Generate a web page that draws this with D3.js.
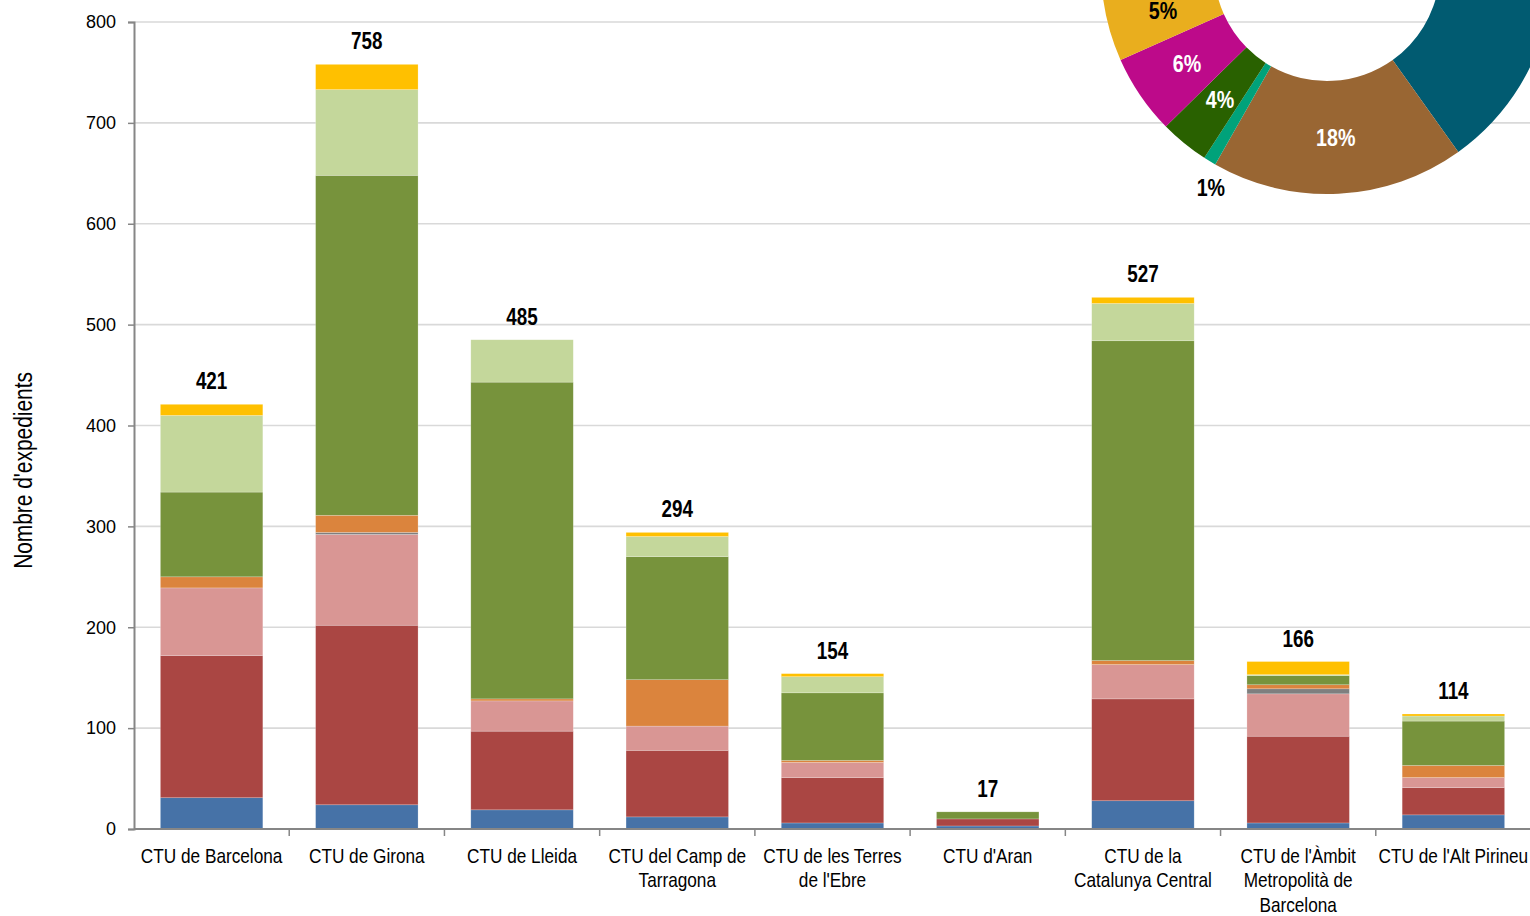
<!DOCTYPE html>
<html>
<head>
<meta charset="utf-8">
<script src="https://cdn.jsdelivr.net/npm/d3@7"></script>
<style>
  body { margin: 0; background: #fff; }
  svg { display: block; }
</style>
</head>
<body>
<svg id="chart" width="1530" height="916"></svg>
<script>
'use strict'

// categories, one per bar (label lines as drawn under the axis)
const categories = [
  'CTU de Barcelona', 'CTU de Girona', 'CTU de Lleida', 'CTU del Camp de Tarragona',
  "CTU de les Terres de l'Ebre", "CTU d'Aran", 'CTU de la Catalunya Central',
  "CTU de l'Àmbit Metropolità de Barcelona", "CTU de l'Alt Pirineu"
]
const categoryLines = [
  ['CTU de Barcelona'], ['CTU de Girona'], ['CTU de Lleida'],
  ['CTU del Camp de', 'Tarragona'], ['CTU de les Terres', "de l'Ebre"],
  ["CTU d'Aran"], ['CTU de la', 'Catalunya Central'],
  ["CTU de l'Àmbit", 'Metropolità de', 'Barcelona'], ["CTU de l'Alt Pirineu"]
]

// stacked series, bottom to top
const seriesKeys = ['s1', 's2', 's3', 's4', 's5', 's6', 's7', 's8']
const s1 = [31, 24, 19, 12, 6, 3, 28, 6, 14]
const s2 = [141, 178, 78, 66, 45, 7, 101, 86, 27]
const s3 = [67, 90, 30, 24, 15, 0, 34, 42, 10]
const s4 = [0, 2, 0, 0, 0, 0, 0, 5, 0]
const s5 = [11, 17, 2, 46, 2, 0, 4, 4, 12]
const s6 = [84, 337, 314, 122, 67, 7, 317, 9, 44]
const s7 = [76, 85, 42, 20, 16, 0, 37, 1, 5]
const s8 = [11, 25, 0, 4, 3, 0, 6, 13, 2]
const seriesColors = ['#4672a7', '#aa4643', '#d99694', '#7f7f7f', '#db843d', '#77933c', '#c4d79b', '#ffc000']

const yTicks = [0, 100, 200, 300, 400, 500, 600, 700, 800]

// donut, percent shares (only part of it is inside the picture)
const donutValues = [25.8, 18.1, 0.9, 3.5, 5.7, 5.2, 40.8]
const donutColors = ['#015b71', '#996633', '#00a27a', '#296100', '#bd0a8a', '#e9ae1e', '#0b7fa0']
const donutTextColors = ['#fff', '#fff', '#000', '#fff', '#fff', '#000', '#fff']
const donutShown = [true, true, true, true, true, true, false]

const sans = "'Liberation Sans', Arial, sans-serif"
const squeeze = 0.82 // narrow look of the original font

const svg = d3.select('#chart')
const margin = { left: 134, top: 22, bottom: 87 }
const height = 916

const rows = categories.map((c, i) => {
  const r = { cat: c }
  const all = [s1, s2, s3, s4, s5, s6, s7, s8]
  seriesKeys.forEach((k, j) => (r[k] = all[j][i]))
  r.total = all.reduce((a, s) => a + s[i], 0)
  return r
})

const x = d3.scaleBand().domain(categories).range([margin.left, 1531])
  .paddingInner(0.34).paddingOuter(0.17)
const y = d3.scaleLinear().domain([0, 800]).range([height - margin.bottom, margin.top])

// grid
svg.append('g').selectAll('line')
  .data(yTicks.filter((t) => t > 0))
  .enter().append('line')
  .attr('x1', margin.left).attr('x2', 1530)
  .attr('y1', (d) => y(d)).attr('y2', (d) => y(d))
  .attr('stroke', '#d9d9d9').attr('stroke-width', 1.6)

// bars
const stack = d3.stack().keys(seriesKeys)
const layers = stack(rows)
svg.append('g').selectAll('g')
  .data(layers)
  .enter().append('g')
  .attr('fill', (d, i) => seriesColors[i])
  .selectAll('rect')
  .data((d) => d)
  .enter().append('rect')
  .attr('x', (d) => x(d.data.cat))
  .attr('width', x.bandwidth())
  .attr('y', (d) => y(d[1]))
  .attr('height', (d) => y(d[0]) - y(d[1]))
  .attr('stroke', '#fff').attr('stroke-opacity', 0.35).attr('stroke-width', 0.6)

// totals
svg.append('g').selectAll('text')
  .data(rows)
  .enter().append('text')
  .attr('transform', (d) => `translate(${x(d.cat) + x.bandwidth() / 2},${y(d.total) - 15}) scale(${squeeze},1)`)
  .attr('text-anchor', 'middle')
  .style('font-family', sans).style('font-weight', 'bold').style('font-size', '23px')
  .text((d) => d.total)

// y axis
const yAxis = d3.axisLeft(y).tickValues(yTicks).tickSize(6).tickPadding(12)
const gy = svg.append('g').attr('transform', `translate(${margin.left},0)`).call(yAxis)
gy.select('.domain').attr('stroke', '#868686').attr('stroke-width', 2)
gy.selectAll('.tick line').attr('stroke', '#868686').attr('stroke-width', 1.5)
gy.selectAll('.tick text').style('font-family', sans).style('font-size', '18px').attr('fill', '#000')

// x axis
const base = y(0)
svg.append('line').attr('x1', margin.left).attr('x2', 1530).attr('y1', base).attr('y2', base)
  .attr('stroke', '#868686').attr('stroke-width', 2)
const bounds = categories.map((c) => x(c) - x.step() * x.paddingInner() / 2).slice(1)
svg.append('g').selectAll('line')
  .data(bounds)
  .enter().append('line')
  .attr('x1', (d) => d).attr('x2', (d) => d)
  .attr('y1', base).attr('y2', base + 7)
  .attr('stroke', '#868686').attr('stroke-width', 1.5)

const labels = svg.append('g').selectAll('text')
  .data(categories)
  .enter().append('text')
  .attr('transform', (d) => `translate(${x(d) + x.bandwidth() / 2},${base + 34}) scale(${squeeze},1)`)
  .attr('text-anchor', 'middle')
  .style('font-family', sans).style('font-size', '21px')
labels.selectAll('tspan')
  .data((d, i) => categoryLines[i])
  .enter().append('tspan')
  .attr('x', 0)
  .attr('dy', (d, i) => (i ? 24.5 : 0))
  .text((d) => d)

// y title
svg.append('text')
  .attr('transform', `translate(31.5,${(y(0) + y(800)) / 2 + 45}) rotate(-90) scale(${squeeze},1)`)
  .attr('text-anchor', 'middle')
  .style('font-family', sans).style('font-size', '25.5px')
  .text("Nombre d'expedients")

// donut
const cx = 1327
const cy = -32
const rOut = 226
const rIn = 113
const pie = d3.pie().sort(null).value((d) => d)
  .startAngle(51.6 * Math.PI / 180).endAngle(411.6 * Math.PI / 180)
const arcs = pie(donutValues)
const arc = d3.arc().innerRadius(rIn).outerRadius(rOut)
const dg = svg.append('g').attr('transform', `translate(${cx},${cy})`)
dg.selectAll('path')
  .data(arcs)
  .enter().append('path')
  .attr('d', arc)
  .attr('fill', (d, i) => donutColors[i])

// small slices get their label outside, just before the slice
const outerPos = (d) => {
  const a = d.startAngle - 0.03
  return [248 * Math.sin(a), -248 * Math.cos(a)]
}
dg.selectAll('text')
  .data(arcs.filter((d, i) => donutShown[i]))
  .enter().append('text')
  .attr('transform', (d) => {
    const p = d.value < 2 ? outerPos(d) : arc.centroid(d)
    return `translate(${p}) scale(${squeeze},1)`
  })
  .attr('dy', '0.35em')
  .attr('text-anchor', 'middle')
  .attr('fill', (d) => donutTextColors[d.index])
  .style('font-family', sans).style('font-weight', 'bold').style('font-size', '24px')
  .text((d) => Math.round(d.value) + '%')
</script>
</body>
</html>
